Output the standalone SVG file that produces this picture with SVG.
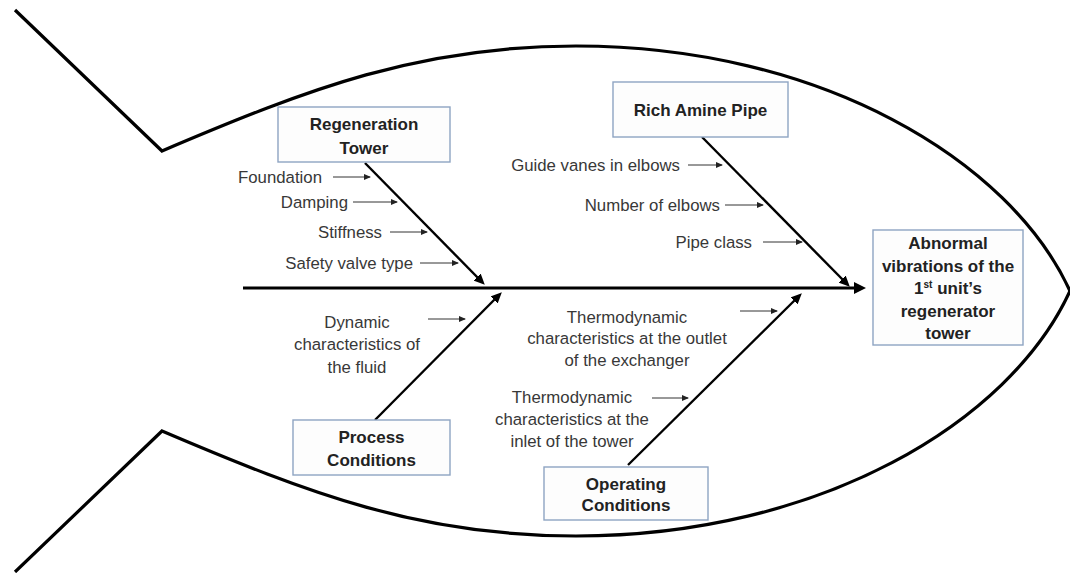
<svg xmlns="http://www.w3.org/2000/svg" width="1070" height="573" viewBox="0 0 1070 573">
  <style>
    .fish { fill: none; stroke: #000; stroke-width: 3.2; stroke-linejoin: miter; }
    .spine { fill: none; stroke: #000; stroke-width: 3.2; }
    .branch { fill: none; stroke: #000; stroke-width: 2.4; }
    .small { fill: none; stroke: #333; stroke-width: 1; }
    .box { fill: #fdfdfd; stroke: #8ea4c2; stroke-width: 1.4; }
    .lbl { font-family: "Liberation Sans", Arial, sans-serif; font-size: 16.8px; fill: #383838; }
    .bold { font-family: "Liberation Sans", Arial, sans-serif; font-size: 17px; font-weight: bold; fill: #222; text-anchor: middle; }
    .mid { text-anchor: middle; }
    .end { text-anchor: end; }
  </style>
  <defs>
    <marker id="bigArrow" markerUnits="userSpaceOnUse" markerWidth="12" markerHeight="12" viewBox="0 0 12 12" refX="8" refY="6" orient="auto">
      <path d="M0,0 L12,6 L0,12 z" fill="#000"/>
    </marker>
    <marker id="brArrow" markerUnits="userSpaceOnUse" markerWidth="11" markerHeight="10" viewBox="0 0 11 10" refX="7" refY="5" orient="auto">
      <path d="M0,0 L11,5 L0,10 z" fill="#000"/>
    </marker>
    <marker id="smArrow" markerUnits="userSpaceOnUse" markerWidth="7" markerHeight="6" viewBox="0 0 7 6" refX="6" refY="3" orient="auto">
      <path d="M0,0 L7,3 L0,6 z" fill="#222"/>
    </marker>
  </defs>

  <g id="fish-outline">
    <path class="fish" d="M15,10 L162,151 C310,88 420,46 576,46 C820,46 1010,160 1070,291"/>
    <path class="fish" d="M15,572 L162,431 C310,494 420,536 576,536 C820,536 1010,422 1070,291"/>
  </g>

  <g id="connectors">
    <line class="spine" x1="243" y1="288" x2="862" y2="288" marker-end="url(#bigArrow)"/>
    <line class="branch" x1="365" y1="163" x2="482" y2="282" marker-end="url(#brArrow)"/>
    <line class="branch" x1="702" y1="137" x2="847" y2="284" marker-end="url(#brArrow)"/>
    <line class="branch" x1="375" y1="420" x2="499" y2="295" marker-end="url(#brArrow)"/>
    <line class="branch" x1="628" y1="465" x2="799" y2="296" marker-end="url(#brArrow)"/>
    <line class="small" x1="333" y1="177" x2="370" y2="177" marker-end="url(#smArrow)"/>
    <line class="small" x1="353" y1="202" x2="397" y2="202" marker-end="url(#smArrow)"/>
    <line class="small" x1="390" y1="232" x2="427" y2="232" marker-end="url(#smArrow)"/>
    <line class="small" x1="420" y1="263" x2="458" y2="263" marker-end="url(#smArrow)"/>
    <line class="small" x1="688" y1="165" x2="722" y2="165" marker-end="url(#smArrow)"/>
    <line class="small" x1="725" y1="205" x2="763" y2="205" marker-end="url(#smArrow)"/>
    <line class="small" x1="763" y1="242" x2="802" y2="242" marker-end="url(#smArrow)"/>
    <line class="small" x1="428" y1="319" x2="465" y2="319" marker-end="url(#smArrow)"/>
    <line class="small" x1="740" y1="311" x2="777" y2="311" marker-end="url(#smArrow)"/>
    <line class="small" x1="652" y1="398" x2="688" y2="398" marker-end="url(#smArrow)"/>
  </g>

  <g id="regeneration-tower">
    <rect class="box" x="278" y="107" width="172" height="55"/>
    <text class="bold" x="364" y="130">Regeneration</text>
    <text class="bold" x="364" y="154">Tower</text>
  </g>

  <g id="regeneration-causes">
    <text class="lbl end" x="322" y="182.5">Foundation</text>
    <text class="lbl end" x="348" y="207.5">Damping</text>
    <text class="lbl end" x="382" y="237.5">Stiffness</text>
    <text class="lbl end" x="413" y="268.5">Safety valve type</text>
  </g>

  <g id="rich-amine-pipe">
    <rect class="box" x="613" y="82" width="175" height="55"/>
    <text class="bold" x="700.5" y="116">Rich Amine Pipe</text>
  </g>

  <g id="rich-amine-causes">
    <text class="lbl end" x="680" y="170.5">Guide vanes in elbows</text>
    <text class="lbl end" x="720" y="210.5">Number of elbows</text>
    <text class="lbl end" x="752" y="247.5">Pipe class</text>
  </g>

  <g id="process-conditions">
    <rect class="box" x="293" y="420" width="157" height="55"/>
    <text class="bold" x="371.5" y="443">Process</text>
    <text class="bold" x="371.5" y="466">Conditions</text>
  </g>

  <g id="process-causes">
    <text class="lbl mid" x="357" y="327.5">Dynamic</text>
    <text class="lbl mid" x="357" y="350">characteristics of</text>
    <text class="lbl mid" x="357" y="372.5">the fluid</text>
  </g>

  <g id="operating-conditions">
    <rect class="box" x="544" y="467" width="164" height="53"/>
    <text class="bold" x="626" y="490">Operating</text>
    <text class="bold" x="626" y="511">Conditions</text>
  </g>

  <g id="operating-causes">
    <text class="lbl mid" x="627" y="322.5">Thermodynamic</text>
    <text class="lbl mid" x="627" y="344">characteristics at the outlet</text>
    <text class="lbl mid" x="627" y="365.5">of the exchanger</text>
    <text class="lbl mid" x="572" y="402.5">Thermodynamic</text>
    <text class="lbl mid" x="572" y="424.5">characteristics at the</text>
    <text class="lbl mid" x="572" y="446.5">inlet of the tower</text>
  </g>

  <g id="effect">
    <rect class="box" x="873" y="230" width="150" height="115"/>
    <text class="bold" x="948" y="249">Abnormal</text>
    <text class="bold" x="948" y="272">vibrations of the</text>
    <text class="bold" x="948" y="294">1<tspan font-size="10" dy="-6">st</tspan><tspan dy="6"> unit’s</tspan></text>
    <text class="bold" x="948" y="317">regenerator</text>
    <text class="bold" x="948" y="339">tower</text>
  </g>
</svg>
